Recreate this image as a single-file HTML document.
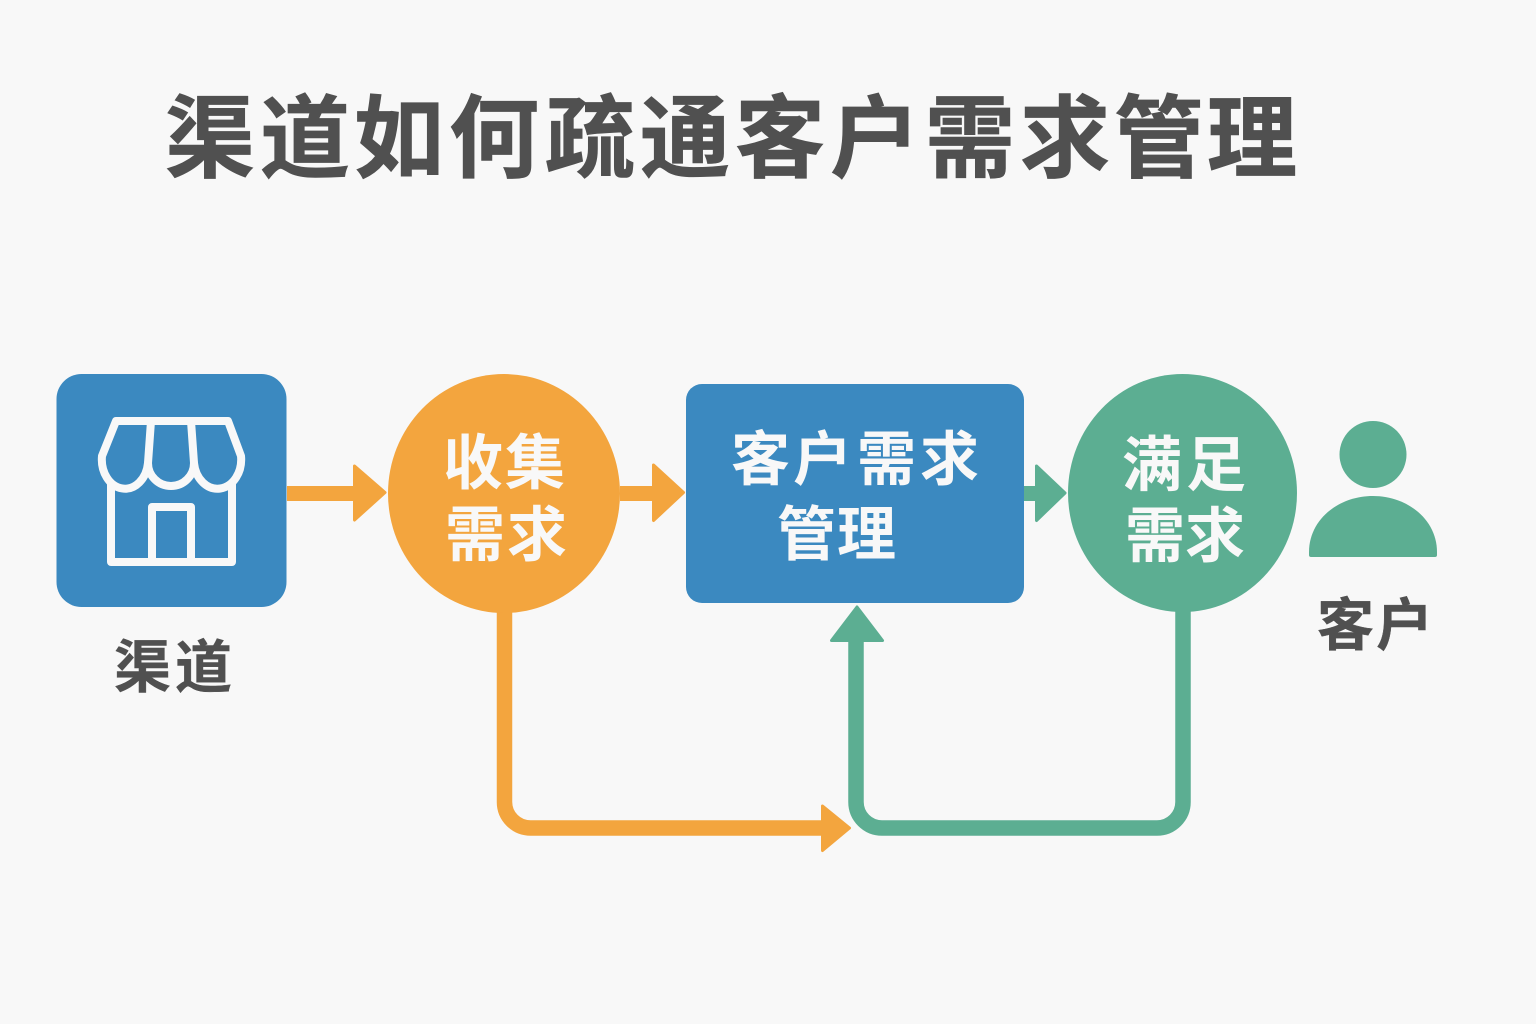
<!DOCTYPE html>
<html lang="zh">
<head>
<meta charset="utf-8">
<title>渠道如何疏通客户需求管理</title>
<style>
html,body{margin:0;padding:0;background:#f8f8f8;width:1536px;height:1024px;overflow:hidden}
svg{display:block}
text{font-family:"Liberation Sans","Noto Sans CJK SC",sans-serif;font-weight:700}
</style>
</head>
<body>
<svg width="1536" height="1024" viewBox="0 0 1536 1024" xmlns="http://www.w3.org/2000/svg">
<rect width="1536" height="1024" fill="#f8f8f8"/>

<text x="165 260 354 449 545 640 735 830 925 1020 1114 1207" y="170" font-size="90" fill="#505050" stroke="#505050" stroke-width=".8">渠道如何疏通客户需求管理</text>

<!-- straight arrows -->
<g fill="#f3a53e" stroke="#f3a53e" stroke-linejoin="round" stroke-width="3">
  <rect x="287" y="486" width="68" height="15" stroke="none"/>
  <path d="M354.500 466 L385 492.500 L354.500 520 Z"/>
  <rect x="620" y="486" width="35" height="15" stroke="none"/>
  <path d="M653.500 465 L683.500 492.500 L653.500 520.500 Z"/>
  <path d="M822.500 806 L849.500 828 L822.500 850.500 Z"/>
</g>
<g fill="#5cae92" stroke="#5cae92" stroke-linejoin="round" stroke-width="3">
  <rect x="1024" y="486" width="14" height="15" stroke="none"/>
  <path d="M1036.500 466 L1065 493 L1036.500 520.500 Z"/>
  <path d="M857 607 L882.500 640.500 L831.500 640.500 Z"/>
</g>

<!-- routed connectors -->
<path d="M504.500 605 V802 A26 26 0 0 0 530.500 828 H824" fill="none" stroke="#f3a53e" stroke-width="15.500"/>
<path d="M1183 605 V802 A26 26 0 0 1 1157 828 H882 A26 26 0 0 1 856 802 V638" fill="none" stroke="#5cae92" stroke-width="15.500"/>

<!-- nodes -->
<rect x="56.500" y="374" width="230" height="233" rx="25" fill="#3b89c0"/>
<ellipse cx="504" cy="493.500" rx="116" ry="119.500" fill="#f3a53e"/>
<rect x="686" y="384" width="338" height="219" rx="16" fill="#3b89c0"/>
<ellipse cx="1182.500" cy="493" rx="114.500" ry="119" fill="#5cae92"/>

<!-- store icon -->
<g fill="none" stroke="#f8f8f8" stroke-width="8" stroke-linejoin="round" stroke-linecap="round">
  <path d="M116 421 H228 L241 456 A23.500 29 0 0 1 194 463 A23 23 0 0 1 148 463 A23 29 0 0 1 102 456 Z"/>
  <path d="M151 421 L148 463 M191 421 L194 463"/>
  <path d="M111 483 V562 H232 V483"/>
  <path d="M152 562 V507 H191 V562"/>
</g>

<!-- person icon -->
<g fill="#5cae92">
  <circle cx="1373" cy="454.500" r="33.500"/>
  <path d="M1309 552 C1309 520 1338 496 1373 496 C1408 496 1437 520 1437 552 V555 Q1437 557 1435 557 H1311 Q1309 557 1309 555 Z"/>
</g>

<!-- labels -->
<text x="114 175" y="687" font-size="57" fill="#505050" stroke="#505050" stroke-width=".4">渠道</text>
<text x="1317 1376" y="645" font-size="57" fill="#505050" stroke="#505050" stroke-width=".4">客户</text>

<text x="443 505" y="484" font-size="60" fill="#f8f8f8">收集</text>
<text x="445 507" y="556" font-size="60" fill="#f8f8f8">需求</text>

<text x="731 793 857 920" y="480" font-size="59" fill="#f8f8f8">客户需求</text>
<text x="777 837" y="555" font-size="59" fill="#f8f8f8">管理</text>

<text x="1122 1186" y="486" font-size="60" fill="#f8f8f8">满足</text>
<text x="1125 1185" y="557" font-size="60" fill="#f8f8f8">需求</text>
</svg>
</body>
</html>
